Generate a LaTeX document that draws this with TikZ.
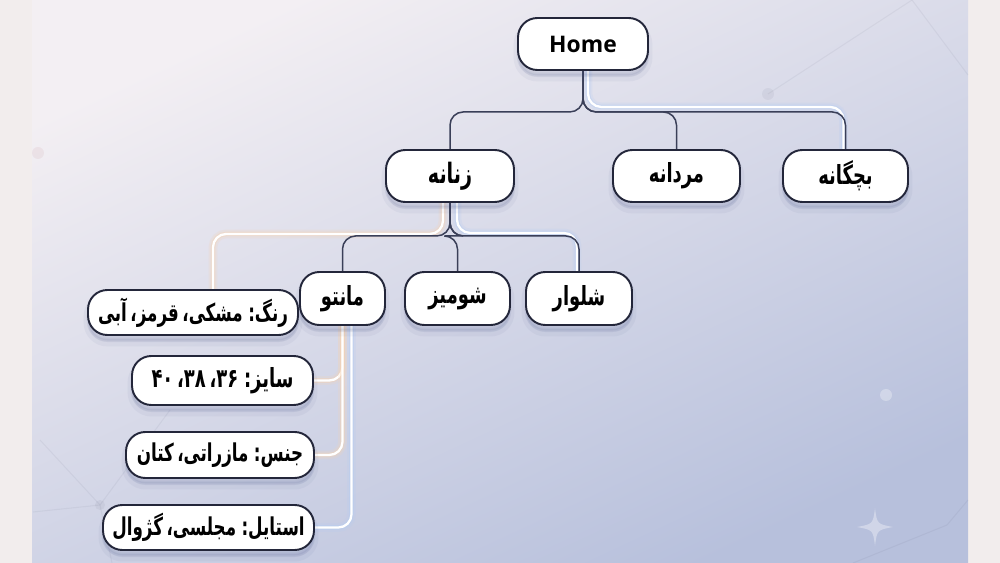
\documentclass[tikz,border=0pt]{standalone}
\usepackage{fontspec}
\setmainfont{Open Sans}
\newfontfamily\pfont[Script=Arabic, FakeStretch=0.68, WordSpace=0.6]{DejaVu Sans}
\TeXXeTstate=1
\usetikzlibrary{shadows}
\definecolor{boxline}{HTML}{23263A}
\definecolor{linkline}{HTML}{3A3F58}
\definecolor{sidebg}{HTML}{F2EDED}
\definecolor{bgtop}{HTML}{F3EFF3}
\definecolor{bgbottom}{HTML}{B7C0DC}
\definecolor{warmglow}{HTML}{F6D2B0}
\definecolor{coolglow}{HTML}{B4CCF2}
\definecolor{shadowcol}{HTML}{3C4A80}
\newcommand{\fatext}[2][15]{{\pfont\fontsize{#1}{#1}\selectfont\beginR #2\endR}}
\pgfdeclarelayer{bg}
\pgfdeclarelayer{lines}
\pgfsetlayers{bg,lines,main}

\begin{document}
\begin{tikzpicture}[x=0.02cm, y=-0.02cm,
        box/.style={draw=boxline, fill=white, line width=1.1pt,
            rounded corners=11pt, minimum height=1.04cm, inner sep=0pt,
            font=\bfseries\fontsize{13}{15}\selectfont,
            drop shadow={shadow xshift=0pt, shadow yshift=-4pt, opacity=0.05,
                fill=shadowcol, draw=shadowcol, line width=5pt},
            drop shadow={shadow xshift=0pt, shadow yshift=-3pt, opacity=0.08,
                fill=shadowcol, draw=shadowcol, line width=1.5pt}},
        attr/.style={box, minimum height=0.92cm},
        link/.style={draw=linkline, line width=0.85pt, rounded corners=7.5pt},
        glowwarm/.style={draw=white, line width=1.3pt, rounded corners=7.5pt,
            preaction={draw=warmglow, line width=5pt, opacity=0.2},
            preaction={draw=warmglow, line width=2.6pt, opacity=0.4}},
        glowcool/.style={draw=white, line width=1.3pt, rounded corners=7.5pt,
            preaction={draw=coolglow, line width=5pt, opacity=0.2},
            preaction={draw=coolglow, line width=2.6pt, opacity=0.4}}]
    \useasboundingbox (0,0) rectangle (1000,563);

    % background
    \begin{pgfonlayer}{bg}
        \fill[sidebg] (0,0) rectangle (1000,563);
        \shade[top color=bgtop, bottom color=bgbottom, shading angle=25]
            (32,0) rectangle (968,563);
        \begin{scope}[linkline, opacity=0.06, line width=0.6pt]
            \draw (768,94) -- (912,0);
            \draw (912,0) -- (968,75);
            \draw (40,440) -- (100,505) -- (170,410);
            \draw (33,512) -- (100,505) -- (112,563);
            \draw (853,563) -- (947,525) -- (968,500);
            \fill (768,94) circle (6);
            \fill (100,505) circle (5);
        \end{scope}
        \fill[red!30!gray, opacity=0.08] (38,153) circle (6);
        \fill[white, opacity=0.3] (886,395) circle (6);
        % sparkle
        \fill[white, opacity=0.35] (875,508) .. controls (877,524) .. (893,527)
            .. controls (877,530) .. (875,546) .. controls (873,530) .. (857,527)
            .. controls (873,524) .. (875,508);
    \end{pgfonlayer}

    % nodes
    \node[box, minimum width=2.6cm] (home) at (583,44) {Home};
    \node[box, minimum width=2.56cm] (zanane) at (450,176) {\fatext[16]{زنانه}};
    \node[box, minimum width=2.54cm] (mardane) at (676.5,176) {\fatext{مردانه}};
    \node[box, minimum width=2.5cm] (bachegane) at (845.5,176) {\fatext{بچگانه}};
    \node[box, minimum width=1.7cm, minimum height=1.06cm] (manto) at (342.5,298.5) {\fatext{مانتو}};
    \node[box, minimum width=2.1cm, minimum height=1.06cm] (shomiz) at (457.5,298.5) {\fatext{شومیز}};
    \node[box, minimum width=2.12cm, minimum height=1.06cm] (shalvar) at (579,298.5) {\fatext{شلوار}};
    \node[attr, minimum width=4.2cm, minimum height=0.9cm] (rang) at (193,312.5) {\fatext[14]{رنگ: مشکی، قرمز، آبی}};
    \node[attr, minimum width=3.62cm, minimum height=0.98cm] (saiz) at (222.5,380.5) {\fatext{سایز: ۳۶، ۳۸، ۴۰}};
    \node[attr, minimum width=3.76cm] (jens) at (220,455) {\fatext[14]{جنس: مازراتی، کتان}};
    \node[attr, minimum width=4.22cm, minimum height=0.9cm] (estyle) at (208.5,527.5) {\fatext[14]{استایل: مجلسی، گژوال}};

    % connectors
    \begin{pgfonlayer}{lines}
        \draw[glowcool] ([xshift=0.1cm]home.south) -- ++(0,36) -| ([xshift=-0.04cm]bachegane.north);
        \draw[glowcool] ([xshift=0.14cm]zanane.south) -- ++(0,30) -| ([xshift=-0.04cm]shalvar.north);
        \draw[glowwarm] ([xshift=-0.14cm]zanane.south) -- ++(0,31) -| ([xshift=0.4cm]rang.north);
        \draw[glowwarm] (manto.south) |- (saiz.east);
        \draw[glowwarm] (manto.south) |- (jens.east);
        \draw[glowcool] ([xshift=0.18cm]manto.south) |- (estyle.east);
        \draw[link] (home.south) -- ++(0,41) -| (zanane.north);
        \draw[link] (home.south) -- ++(0,41) -| (mardane.north);
        \draw[link] (home.south) -- ++(0,41) -| (bachegane.north);
        \draw[link] (zanane.south) -- ++(0,33) -| (manto.north);
        \draw[link] (zanane.south) -- ++(0,33) -| (shomiz.north);
        \draw[link] (zanane.south) -- ++(0,33) -| (shalvar.north);
    \end{pgfonlayer}
\end{tikzpicture}
\end{document}
